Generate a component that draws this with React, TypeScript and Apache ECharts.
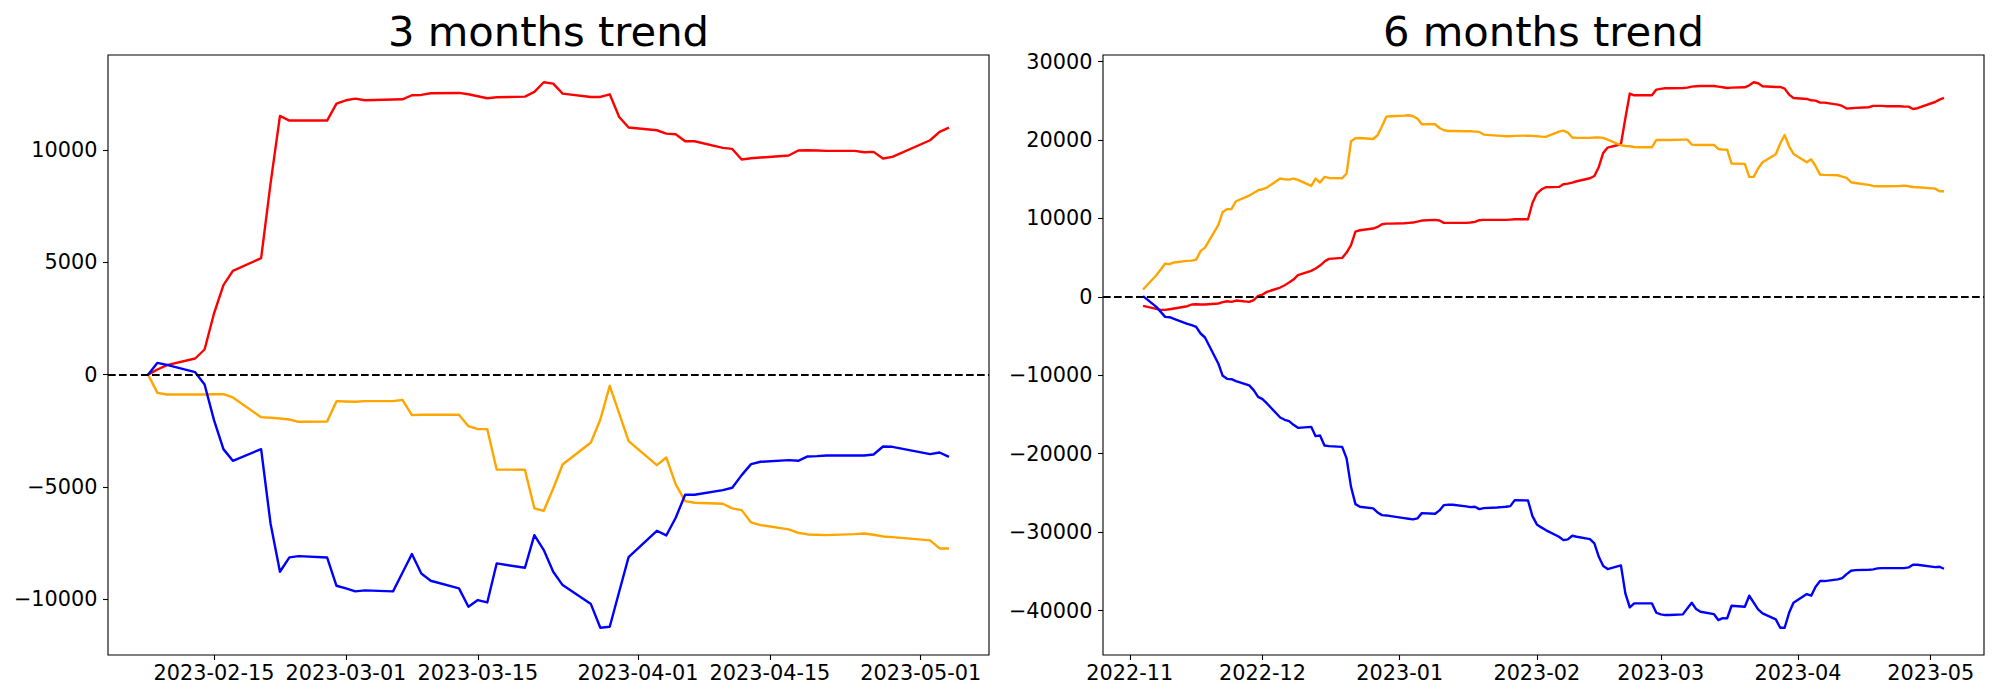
import React, { useEffect, useRef } from 'react';
import * as echarts from 'echarts';

// ---------- 3 months panel ----------
const dates3m = [
  '2023-02-08', '2023-02-09', '2023-02-10', '2023-02-13', '2023-02-14', '2023-02-15', '2023-02-16', '2023-02-17',
  '2023-02-20', '2023-02-21', '2023-02-22', '2023-02-23', '2023-02-24', '2023-02-27', '2023-02-28',
  '2023-03-01', '2023-03-02', '2023-03-03', '2023-03-06', '2023-03-07', '2023-03-08', '2023-03-09', '2023-03-10',
  '2023-03-13', '2023-03-14', '2023-03-15', '2023-03-16', '2023-03-17', '2023-03-20', '2023-03-21', '2023-03-22',
  '2023-03-23', '2023-03-24', '2023-03-27', '2023-03-28', '2023-03-29', '2023-03-30', '2023-03-31',
  '2023-04-03', '2023-04-04', '2023-04-05', '2023-04-06', '2023-04-07', '2023-04-10', '2023-04-11', '2023-04-12',
  '2023-04-13', '2023-04-14', '2023-04-17', '2023-04-18', '2023-04-19', '2023-04-20', '2023-04-21', '2023-04-24',
  '2023-04-25', '2023-04-26', '2023-04-27', '2023-04-28', '2023-05-02', '2023-05-03', '2023-05-04',
];
const red3m = [
  0, 231, 423, 720, 1121, 2725, 3986, 4625,
  5189, 8514, 11530, 11322, 11322, 11322, 12079,
  12226, 12300, 12226, 12260, 12270, 12449, 12464, 12538,
  12553, 12493, 12404, 12315, 12360, 12390, 12597, 13028,
  12968, 12524, 12374, 12374, 12493, 11483, 11010,
  10890, 10742, 10712, 10400, 10400, 10103, 10058, 9585,
  9644, 9674, 9763, 9986, 10000, 9986, 9971, 9971,
  9912, 9927, 9630, 9704, 10445, 10815, 11010,
];
const orange3m = [
  0, -810, -884, -884, -884, -870, -870, -1017,
  -1893, -1923, -1952, -1997, -2101, -2086, -1180,
  -1195, -1210, -1180, -1180, -1121, -1804, -1789, -1789,
  -1789, -2294, -2428, -2428, -4224, -4239, -5961, -6065,
  -5070, -4001, -3021, -1997, -497, -1730, -2960,
  -4031, -3690, -4892, -5634, -5708, -5753, -5961, -6035,
  -6585, -6703, -6896, -7045, -7119, -7134, -7149, -7104,
  -7075, -7134, -7208, -7238, -7386, -7743, -7743,
];
const blue3m = [
  0, 526, 438, 111, -438, -2027, -3318, -3838,
  -3318, -6629, -8783, -8144, -8085, -8144, -9406,
  -9524, -9658, -9613, -9658, -8827, -7995, -8857, -9183,
  -9524, -10341, -10044, -10148, -8411, -8604, -7149, -7817,
  -8783, -9376, -10222, -11276, -11232, -9672, -8129,
  -6956, -7164, -6377, -5352, -5352, -5144, -5040, -4476,
  -3986, -3882, -3808, -3838, -3645, -3630, -3600, -3600,
  -3600, -3556, -3200, -3215, -3541, -3467, -3660,
];
const xTicks3m = ['2023-02-15', '2023-03-01', '2023-03-15', '2023-04-01', '2023-04-15', '2023-05-01'];
const yTicks3m = [-10000, -5000, 0, 5000, 10000];

// ---------- 6 months panel ----------
const dates6m = [
  '2022-11-04', '2022-11-07', '2022-11-08', '2022-11-09', '2022-11-10', '2022-11-11', '2022-11-14', '2022-11-15',
  '2022-11-16', '2022-11-17', '2022-11-18', '2022-11-21', '2022-11-22', '2022-11-23', '2022-11-24', '2022-11-25',
  '2022-11-28', '2022-11-29', '2022-11-30',
  '2022-12-01', '2022-12-02', '2022-12-05', '2022-12-06', '2022-12-07', '2022-12-08', '2022-12-09', '2022-12-12',
  '2022-12-13', '2022-12-14', '2022-12-15', '2022-12-16', '2022-12-19', '2022-12-20', '2022-12-21', '2022-12-22',
  '2022-12-23', '2022-12-26', '2022-12-27', '2022-12-28', '2022-12-29', '2022-12-30',
  '2023-01-02', '2023-01-03', '2023-01-04', '2023-01-05', '2023-01-06', '2023-01-09', '2023-01-10', '2023-01-11',
  '2023-01-12', '2023-01-13', '2023-01-16', '2023-01-17', '2023-01-18', '2023-01-19', '2023-01-20', '2023-01-23',
  '2023-01-24', '2023-01-25', '2023-01-26', '2023-01-27', '2023-01-30', '2023-01-31',
  '2023-02-01', '2023-02-02', '2023-02-03', '2023-02-06', '2023-02-07', '2023-02-08', '2023-02-09', '2023-02-10',
  '2023-02-13', '2023-02-14', '2023-02-15', '2023-02-16', '2023-02-17', '2023-02-20', '2023-02-21', '2023-02-22',
  '2023-02-23', '2023-02-24', '2023-02-27', '2023-02-28',
  '2023-03-01', '2023-03-02', '2023-03-03', '2023-03-06', '2023-03-07', '2023-03-08', '2023-03-09', '2023-03-10',
  '2023-03-13', '2023-03-14', '2023-03-15', '2023-03-16', '2023-03-17', '2023-03-20', '2023-03-21', '2023-03-22',
  '2023-03-23', '2023-03-24', '2023-03-27', '2023-03-28', '2023-03-29', '2023-03-30', '2023-03-31',
  '2023-04-03', '2023-04-04', '2023-04-05', '2023-04-06', '2023-04-07', '2023-04-10', '2023-04-11', '2023-04-12',
  '2023-04-13', '2023-04-14', '2023-04-17', '2023-04-18', '2023-04-19', '2023-04-20', '2023-04-21', '2023-04-24',
  '2023-04-25', '2023-04-26', '2023-04-27', '2023-04-28',
  '2023-05-02', '2023-05-03', '2023-05-04',
];
const red6m = [
  -1147, -1526, -1657, -1657, -1570, -1480, -1190, -970,
  -930, -970, -970, -845, -675, -550, -635, -465,
  -635, -420, 130,
  300, 640, 1195, 1490, 1830, 2215, 2765, 3315,
  3615, 4000, 4510, 4845, 4975, 5655, 6590, 8330,
  8500, 8715, 8925, 9265, 9350, 9350,
  9395, 9435, 9480, 9605, 9735, 9820, 9735, 9435,
  9435, 9435, 9435, 9480, 9560, 9775, 9820, 9820,
  9820, 9820, 9860, 9905, 9905, 11980,
  13180, 13690, 13985, 14025, 14365, 14450, 14580, 14750,
  15130, 15425, 16570, 18355, 19040, 19465, 22780, 25930,
  25710, 25710, 25710, 26435,
  26520, 26605, 26605, 26645, 26690, 26820, 26860, 26900,
  26900, 26820, 26730, 26645, 26690, 26730, 26985, 27370,
  27240, 26860, 26775, 26775, 26560, 25800, 25365,
  25240, 25070, 25030, 24780, 24780, 24525, 24350, 24015,
  24060, 24100, 24185, 24355, 24355, 24355, 24310, 24310,
  24270, 24270, 23965, 24060,
  24855, 25160, 25365,
];
const orange6m = [
  940, 2766, 3490, 4250, 4165, 4388, 4590, 4630,
  4760, 5830, 6290, 9140, 10835, 11180, 11218, 12200,
  12925, 13260, 13600,
  13730, 13945, 15090, 15005, 14960, 15090, 14920, 14150,
  15090, 14580, 15300, 15170, 15130, 15730, 19850, 20230,
  20270, 20140, 20610, 21760, 22990, 23035,
  23120, 23165, 23035, 22740, 22015, 22015, 21540, 21250,
  21160, 21160, 21120, 21120, 21080, 21040, 20700, 20570,
  20530, 20490, 20490, 20530, 20570, 20530,
  20490, 20445, 20400, 21080, 21210, 20955, 20320, 20275,
  20275, 20320, 20320, 20275, 20065, 19340, 19250, 19210,
  19120, 19080, 19080, 20010,
  20010, 20010, 20010, 20055, 20055, 19425, 19380, 19380,
  19380, 18865, 18780, 18780, 17005, 16960, 15300, 15300,
  16370, 17170, 18190, 19555, 20650, 19210, 18230,
  17170, 17550, 16660, 15600, 15560, 15515, 15345, 15170,
  14620, 14530, 14280, 14150, 14110, 14110, 14110, 14150,
  14195, 14110, 14020, 13980,
  13810, 13470, 13470,
];
const blue6m = [
  100, -1275, -1910, -2550, -2590, -2805, -3440, -3610,
  -3825, -4670, -5180, -8490, -10070, -10450, -10495, -10745,
  -11290, -11895, -12745,
  -13040, -13590, -15375, -15675, -15845, -16315, -16700, -16570,
  -17760, -17670, -18945, -19030, -19120, -20600, -24220, -26425,
  -26770, -26975, -27485, -27830, -27870, -27955,
  -28210, -28295, -28380, -28250, -27575, -27660, -27230, -26550,
  -26510, -26510, -26720, -26805, -26765, -27060, -26935, -26850,
  -26805, -26765, -26680, -25915, -25960, -27955,
  -29015, -29395, -29740, -30590, -31015, -30930, -30465, -30590,
  -30885, -31440, -33140, -34330, -34710, -34245, -37815, -39595,
  -39085, -39085, -39085, -40280,
  -40490, -40575, -40575, -40490, -39725, -39000, -39810, -40150,
  -40450, -41215, -40960, -41000, -39385, -39510, -38110, -39000,
  -39850, -40360, -41125, -42190, -42190, -40290, -39000,
  -37900, -38110, -36965, -36240, -36240, -36030, -35860, -35350,
  -34925, -34840, -34800, -34755, -34625, -34585, -34585, -34585,
  -34585, -34500, -34160, -34160,
  -34460, -34415, -34670,
];
const xTicks6m = ['2022-11-01', '2022-12-01', '2023-01-01', '2023-02-01', '2023-03-01', '2023-04-01', '2023-05-01'];
const yTicks6m = [-40000, -30000, -20000, -10000, 0, 10000, 20000, 30000];

const titles = ['3 months trend', '6 months trend'];
const seriesNames = ['red', 'orange', 'blue'];
const seriesColors = ['#ff0000', '#ffa500', '#0000ff'];

// ---------- helpers ----------
const FONT = 'DejaVu Sans';
const ts = (s: string) => {
  const [y, m, d] = s.split('-').map(Number);
  return Date.UTC(y, m - 1, d);
};
const p2 = (n: number) => (n < 10 ? '0' + n : '' + n);
const fmtDay = (v: number) => {
  const d = new Date(v);
  return `${d.getUTCFullYear()}-${p2(d.getUTCMonth() + 1)}-${p2(d.getUTCDate())}`;
};
const fmtMonth = (v: number) => {
  const d = new Date(v);
  return `${d.getUTCFullYear()}-${p2(d.getUTCMonth() + 1)}`;
};
const fmtNum = (v: number) => (v < 0 ? '\u2212' + String(-v) : String(v));
const padExtent = (vals: number[]) => {
  const lo = Math.min(...vals);
  const hi = Math.max(...vals);
  const m = (hi - lo) * 0.05;
  return [lo - m, hi + m];
};

const panels = [
  { dates: dates3m, values: [red3m, orange3m, blue3m], xTicks: xTicks3m, yTicks: yTicks3m, fmt: fmtDay },
  { dates: dates6m, values: [red6m, orange6m, blue6m], xTicks: xTicks6m, yTicks: yTicks6m, fmt: fmtMonth },
];

const gridBoxes = [
  { left: 108, top: 55, width: 881, height: 600 },
  { left: 1103, top: 55, width: 881, height: 600 },
];

function buildOption() {
  const grid: any[] = [];
  const xAxis: any[] = [];
  const yAxis: any[] = [];
  const series: any[] = [];
  const title: any[] = [];

  panels.forEach((p, i) => {
    const xs = p.dates.map(ts);
    const [xMin, xMax] = padExtent(xs);
    const [yMin, yMax] = padExtent(([] as number[]).concat(...p.values));
    const gb = gridBoxes[i];
    grid.push({
      ...gb,
      show: true,
      borderColor: '#000',
      borderWidth: 1.1,
      backgroundColor: 'transparent',
      containLabel: false,
      outerBoundsMode: 'none',
    });
    title.push({
      text: titles[i],
      left: gb.left + gb.width / 2,
      top: 10.8,
      textAlign: 'center',
      padding: 0,
      textStyle: { fontFamily: FONT, fontSize: 41.7, fontWeight: 'normal', color: '#000', lineHeight: 41.7 },
    });
    const xTickVals = p.xTicks.map(ts);
    xAxis.push({
      type: 'value',
      gridIndex: i,
      min: xMin,
      max: xMax,
      splitLine: { show: false },
      axisLine: { show: false, onZero: false },
      axisTick: { show: true, length: 5, lineStyle: { color: '#000', width: 1.1 }, customValues: xTickVals },
      axisLabel: {
        customValues: xTickVals,
        formatter: (v: number) => p.fmt(v),
        fontFamily: FONT,
        fontSize: 20.8,
        lineHeight: 20.8,
        color: '#000',
        margin: 7.4,
        hideOverlap: false,
      },
    });
    yAxis.push({
      type: 'value',
      gridIndex: i,
      min: yMin,
      max: yMax,
      splitLine: { show: false },
      axisLine: { show: false, onZero: false },
      axisTick: { show: true, length: 5, lineStyle: { color: '#000', width: 1.1 }, customValues: p.yTicks },
      axisLabel: {
        customValues: p.yTicks,
        formatter: (v: number) => fmtNum(v),
        fontFamily: FONT,
        fontSize: 20.8,
        color: '#000',
        margin: 10.5,
      },
    });
    p.values.forEach((vals, k) => {
      const s: any = {
        name: seriesNames[k],
        type: 'line',
        xAxisIndex: i,
        yAxisIndex: i,
        data: xs.map((x, j) => [x, vals[j]]),
        showSymbol: false,
        symbol: 'none',
        silent: true,
        lineStyle: { color: seriesColors[k], width: 2.4, join: 'round', cap: 'butt' },
        itemStyle: { color: seriesColors[k] },
      };
      if (k === p.values.length - 1) {
        s.markLine = {
          silent: true,
          symbol: ['none', 'none'],
          label: { show: false },
          lineStyle: { color: '#000', width: 2.1, type: [7.7, 3.3] },
          data: [{ yAxis: 0 }],
        };
      }
      series.push(s);
    });
  });

  return {
    animation: false,
    backgroundColor: '#fff',
    textStyle: { fontFamily: FONT },
    title,
    grid,
    xAxis,
    yAxis,
    series,
  };
}

export default function App() {
  const ref = useRef<HTMLDivElement>(null);
  useEffect(() => {
    if (!ref.current) return;
    const chart = echarts.init(ref.current, undefined, { renderer: 'svg' });
    chart.setOption(buildOption() as any);
    return () => chart.dispose();
  }, []);
  return (
    <div
      ref={ref}
      style={{ position: 'absolute', left: 0, top: 0, width: 2000, height: 700, background: '#fff' }}
    />
  );
}
